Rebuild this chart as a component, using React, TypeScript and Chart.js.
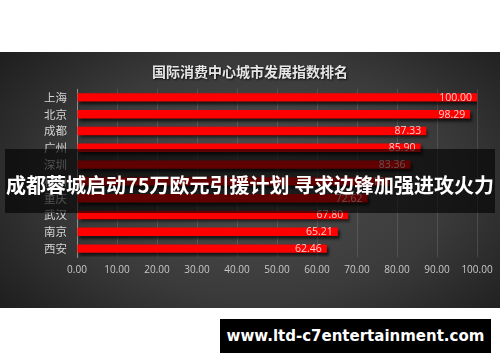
import React, { useEffect, useRef } from "react";
import { Chart, registerables } from "chart.js";
Chart.register(...registerables);

const cities = ["上海", "北京", "成都", "广州", "深圳", "杭州", "重庆", "武汉", "南京", "西安"];
const values = [100.0, 98.29, 87.33, 85.9, 83.36, 78.1, 72.62, 67.8, 65.21, 62.46];
const xMin = 0;
const xMax = 100;
const xStep = 10;
const titleText = "国际消费中心城市发展指数排名";
const bannerText = "成都蓉城启动75万欧元引援计划 寻求边锋加强进攻火力";
const siteText = "www.ltd-c7entertainment.com";

const CJK = '"Noto Sans CJK SC", "Noto Sans", sans-serif';
const NUM = '"Open Sans", "Noto Sans", sans-serif';

export default function App() {
  const ref = useRef<HTMLCanvasElement | null>(null);

  useEffect(() => {
    const canvas = ref.current;
    if (!canvas) return;

    const decor = {
      id: "decor",
      beforeDatasetsDraw(chart: any) {
        const ctx = chart.ctx;
        ctx.save();
        ctx.shadowColor = "rgba(0,0,0,0.65)";
        ctx.shadowOffsetX = 2;
        ctx.shadowOffsetY = 3;
        ctx.shadowBlur = 3;
      },
      afterDatasetsDraw(chart: any) {
        const ctx = chart.ctx;
        ctx.restore();
        const meta = chart.getDatasetMeta(0);
        ctx.save();
        ctx.font = `10.5px ${NUM}`;
        ctx.fillStyle = "rgba(255,255,255,0.8)";
        ctx.textAlign = "right";
        ctx.textBaseline = "middle";
        meta.data.forEach((bar: any, i: number) => {
          ctx.fillText(values[i].toFixed(2), bar.x - 5, bar.y + 0.5);
        });
        ctx.restore();
      },
      afterDraw(chart: any) {
        const ctx = chart.ctx;
        ctx.save();
        ctx.font = `bold 14px ${CJK}`;
        ctx.textAlign = "center";
        ctx.textBaseline = "middle";
        ctx.shadowColor = "rgba(0,0,0,0.8)";
        ctx.shadowOffsetX = 1;
        ctx.shadowOffsetY = 1;
        ctx.shadowBlur = 2;
        ctx.fillStyle = "#e6e6e6";
        ctx.fillText(titleText, 250, 20);
        ctx.restore();
      },
    };

    const chart = new Chart(canvas, {
      type: "bar",
      data: {
        labels: cities,
        datasets: [
          {
            data: values,
            backgroundColor: "#ff0000",
            borderWidth: 0,
            barPercentage: 0.5,
            categoryPercentage: 1,
          },
        ],
      },
      options: {
        indexAxis: "y",
        animation: false,
        responsive: false,
        maintainAspectRatio: false,
        layout: { padding: { top: 37, right: 23, left: 0, bottom: 0 } },
        plugins: {
          legend: { display: false },
          title: { display: false },
          tooltip: { enabled: false },
        },
        scales: {
          x: {
            min: xMin,
            max: xMax,
            afterFit: (s: any) => {
              s.height = 51;
            },
            grid: { color: "rgba(255,255,255,0.12)", drawTicks: false },
            border: { display: false },
            ticks: {
              stepSize: xStep,
              padding: 7,
              color: "#c8c8c8",
              font: { size: 10, family: NUM },
              callback: (v: any) => Number(v).toFixed(2),
            },
          },
          y: {
            afterFit: (s: any) => {
              s.width = 77;
            },
            grid: { display: false, drawTicks: false },
            border: { display: true, color: "rgba(190,190,190,0.6)", width: 1 },
            ticks: {
              autoSkip: false,
              padding: 10,
              color: "#d4d4d4",
              font: { size: 11.5, family: CJK },
            },
          },
        },
      },
      plugins: [decor],
    } as any);

    return () => chart.destroy();
  }, []);

  return (
    <div
      style={{
        position: "fixed",
        left: 0,
        top: 0,
        width: 500,
        height: 362,
        background: "#ffffff",
        overflow: "hidden",
      }}
    >
      <div
        style={{
          position: "absolute",
          left: 0,
          top: 52,
          width: 500,
          height: 256,
          background:
            "radial-gradient(ellipse 70% 85% at 52% 50%, #4e4e4e 0%, #3a3a3a 55%, #1a1a1a 100%)",
        }}
      >
        <canvas ref={ref} width={500} height={256} style={{ display: "block", width: 500, height: 256 }} />
      </div>
      <div
        style={{
          position: "absolute",
          left: 5,
          top: 149,
          width: 490,
          height: 64,
          background: "rgba(0,0,0,0.62)",
        }}
      />
      <div
        style={{
          position: "absolute",
          left: 0,
          top: 170,
          width: 500,
          height: 30,
          lineHeight: "30px",
          textAlign: "center",
          color: "#ffffff",
          fontFamily: CJK,
          fontWeight: 700,
          fontSize: 20,
          whiteSpace: "nowrap",
        }}
      >
        {bannerText}
      </div>
      <div
        style={{
          position: "absolute",
          left: 220,
          top: 319,
          width: 271,
          height: 34,
          background: "#000000",
          color: "#ffffff",
          fontFamily: '"DejaVu Sans", sans-serif',
          fontWeight: 700,
          fontSize: 15,
          lineHeight: "34px",
          textAlign: "center",
          whiteSpace: "nowrap",
        }}
      >
        {siteText}
      </div>
    </div>
  );
}
